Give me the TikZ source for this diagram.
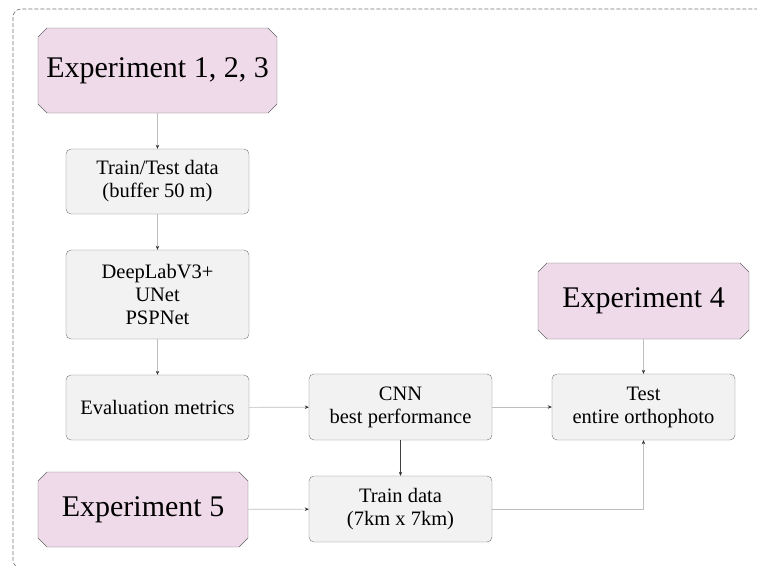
\documentclass[tikz,border=0pt]{standalone}
\usepackage{fontspec}
\setmainfont{Liberation Serif}
\usetikzlibrary{arrows.meta, positioning, shapes.misc}
\definecolor{exppink}{RGB}{239,218,233}
\definecolor{boxgray}{RGB}{242,242,242}
\definecolor{linegray}{RGB}{190,190,190}
\tikzset{
  procbox/.style={
    draw=black!55,
    fill=boxgray,
    rectangle,
    rounded corners=5pt,
    minimum height=65pt,
    minimum width=183pt,
    inner sep=0pt,
    align=center,
    font=\fontsize{20.5}{23}\selectfont,
  },
  expbox/.style={
    draw=black!60,
    fill=exppink,
    chamfered rectangle,
    chamfered rectangle xsep=4.5pt,
    chamfered rectangle ysep=4.5pt,
    inner sep=0pt,
    align=center,
    font=\fontsize{30}{34}\selectfont,
  },
  arrow/.style={
    -{Stealth[length=4pt,width=3.5pt,black!80]},
    draw=linegray,
    line width=0.6pt
  }
}
\begin{document}
\begin{tikzpicture}[x=1pt,y=-1pt]
\useasboundingbox (0,0) rectangle (757,565);
\clip (0,0) rectangle (757,565);
% frame
\draw[black!55, dash pattern=on 4pt off 2pt, line width=0.6pt, rounded corners=8pt]
  (13,9) rectangle (790,568);

% left column
\node[expbox, minimum width=239pt, minimum height=85pt] (exp123) at (157.5,70.5) {Experiment 1, 2, 3};
\node[procbox] (traintest) at (157.5,181.5) {Train/Test data\\(buffer 50 m)};
\node[procbox, minimum height=89pt] (nets) at (157.5,294.5) {DeepLabV3+\\UNet\\PSPNet};
\node[procbox] (metrics) at (157.5,407.5) {Evaluation metrics};
\node[expbox, minimum width=210pt, minimum height=75pt] (exp5) at (143,509.5) {Experiment 5};

% middle column
\node[procbox, minimum height=66pt] (cnn) at (400.5,407) {CNN\\best performance};
\node[procbox, minimum height=66pt] (traindata) at (400.5,509) {Train data\\(7km x 7km)};

% right column
\node[expbox, minimum width=211pt, minimum height=76pt] (exp4) at (643.5,301) {Experiment 4};
\node[procbox, minimum height=66pt] (test) at (643.5,407) {Test\\entire orthophoto};

% connectors
\draw[arrow] (exp123) -- (traintest);
\draw[arrow] (traintest) -- (nets);
\draw[arrow] (nets) -- (metrics);
\draw[arrow] (metrics) -- (cnn);
\draw[arrow] (cnn) -- (test);
\draw[arrow] (exp4) -- (test);
\draw[arrow, draw=black!75] (cnn) -- (traindata);
\draw[arrow] (exp5) -- (traindata);
\draw[arrow] (traindata.east) -| (test.south);
\end{tikzpicture}
\end{document}
